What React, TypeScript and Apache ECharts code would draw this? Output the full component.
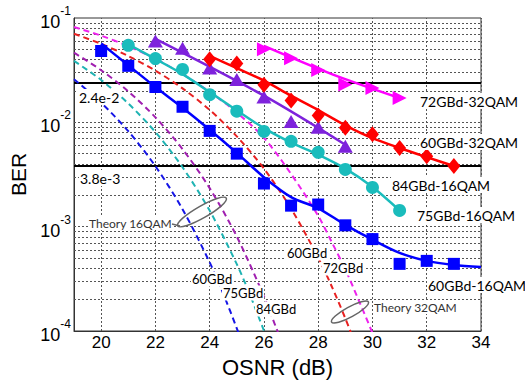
import React, { useEffect, useRef } from 'react';
import * as echarts from 'echarts';

// ---------- data ----------
const xTickLabels = ['20', '22', '24', '26', '28', '30', '32', '34'];
const yTickExponents = ['-4', '-3', '-2', '-1'];
const yGridValues = [
  0.0002, 0.0003, 0.0004, 0.0005, 0.0006, 0.0007, 0.0008, 0.0009, 0.001,
  0.002, 0.003, 0.004, 0.005, 0.006, 0.007, 0.008, 0.009, 0.01,
  0.02, 0.03, 0.04, 0.05, 0.06, 0.07, 0.08, 0.09,
];
const thresholds = [0.024, 0.0038];
const xRange = [19, 34];
const yRange = [0.0001, 0.1];

// measured points
const q16_60_x = [20, 21, 22, 23, 24, 25, 26, 27, 28, 29, 30, 31, 32, 33];
const q16_60_y = [0.0483, 0.0348, 0.0218, 0.0141, 0.00828, 0.00501, 0.00259, 0.00159, 0.00163, 0.00103, 0.00076, 0.00044, 0.00047, 0.00044];
const q16_60_fitX = [20, 21, 22, 23, 24, 25, 26, 27, 28, 29, 30, 31, 32, 33, 34];
const q16_60_fitY = [0.057, 0.0352, 0.0218, 0.0138, 0.0085, 0.0051, 0.00298, 0.00192, 0.0015, 0.00104, 0.00075, 0.00056, 0.00047, 0.00043, 0.00041];

const q16_75_x = [21, 22, 23, 24, 25, 26, 27, 28, 29, 30, 31];
const q16_75_y = [0.0547, 0.0409, 0.0321, 0.0184, 0.0128, 0.00817, 0.00657, 0.00516, 0.00354, 0.00238, 0.00143];
const q16_75_fitX = [21, 22, 23, 24, 25, 26, 27, 28, 29, 30, 31];
const q16_75_fitY = [0.056, 0.0405, 0.029, 0.0195, 0.013, 0.0088, 0.0064, 0.0049, 0.0036, 0.0024, 0.00143];

const q16_84_x = [22, 23, 24, 25, 26, 27, 28, 29];
const q16_84_y = [0.0601, 0.0512, 0.0331, 0.0258, 0.0175, 0.0102, 0.00897, 0.00589];
const q16_84_fitX = [22, 26, 29];
const q16_84_fitY = [0.063, 0.018, 0.0061];

const q32_60_x = [24, 25, 26, 27, 28, 29, 30, 31, 32, 33];
const q32_60_y = [0.0403, 0.0367, 0.0229, 0.0162, 0.0116, 0.00887, 0.0077, 0.00568, 0.00473, 0.00381];
const q32_60_fitX = [24, 25, 26, 27, 28, 29, 30, 31, 32, 33];
const q32_60_fitY = [0.0433, 0.033, 0.0251, 0.018, 0.0131, 0.00937, 0.00706, 0.00568, 0.00464, 0.00381];

const q32_72_x = [26, 27, 28, 29, 30, 31];
const q32_72_y = [0.0501, 0.0412, 0.0317, 0.0231, 0.0213, 0.0171];
const q32_72_fitX = [26, 28.5, 31];
const q32_72_fitY = [0.054, 0.029, 0.0171];

// theory curves
const th16_60_x = [19, 20, 21, 22, 23, 24, 24.5, 25, 25.2];
const th16_60_y = [0.0259, 0.0154, 0.00822, 0.0038, 0.00147, 0.000455, 0.000228, 0.000106, 0.000076];
const th16_75_x = [19, 20, 21, 22, 23, 24, 25, 25.5, 26, 26.2];
const th16_75_y = [0.0388, 0.0255, 0.01515, 0.00807, 0.00371, 0.001426, 0.000437, 0.000218, 0.000101, 0.000076];
const th16_84_x = [19, 20, 21, 22, 23, 24, 25, 26, 26.5, 26.7];
const th16_84_y = [0.0465, 0.0316, 0.0198, 0.01117, 0.00553, 0.00234, 0.000804, 0.000215, 0.0000995, 0.000075];
const th32_60_x = [19, 20, 21, 22, 23, 24, 25, 26, 27, 28, 28.5, 29, 29.3];
const th32_60_y = [0.0706, 0.0565, 0.0432, 0.0313, 0.02114, 0.01315, 0.00733, 0.0036, 0.00149, 0.000505, 0.000267, 0.000132, 0.000083];
const th32_72_x = [19, 20, 21, 22, 23, 24, 25, 26, 27, 28, 28.5, 29, 29.5, 30, 30.1];
const th32_72_y = [0.082, 0.0677, 0.0536, 0.0406, 0.029, 0.0196, 0.0124, 0.0071, 0.0032, 0.00127, 0.00071, 0.00039, 0.000195, 0.0000955, 0.00008];

const seriesLabels = ['72GBd-32QAM', '60GBd-32QAM', '84GBd-16QAM', '75GBd-16QAM', '60GBd-16QAM'];

const zip = (xs: number[], ys: number[]) => xs.map((x, i) => [x, ys[i]]);

const AXF = 'Liberation Sans, Arial, sans-serif';
const LBF = 'Lato, Carlito, sans-serif';

export default function App() {
  const ref = useRef<HTMLDivElement>(null);
  useEffect(() => {
    if (!ref.current) return;
    const chart = echarts.init(ref.current, null, { renderer: 'svg' });

    const dashed = (name: string, xs: number[], ys: number[], color: string) => ({
      name, type: 'line', data: zip(xs, ys), showSymbol: false, smooth: 0.3, z: 3,
      lineStyle: { color, width: 2, type: [6, 4] },
    });
    const fit = (name: string, xs: number[], ys: number[], color: string) => ({
      name, type: 'line', data: zip(xs, ys), showSymbol: false, smooth: 0.3, z: 4,
      lineStyle: { color, width: 2.5 },
    });
    const pts = (name: string, xs: number[], ys: number[], color: string, symbol: string, size: any, rot = 0) => ({
      name, type: 'scatter', data: zip(xs, ys), symbol, symbolSize: size, symbolRotate: rot, z: 5,
      itemStyle: { color, opacity: 1 },
    });

    const label = (text: string, x: number, y: number, size: number, color = '#000') => ({
      type: 'text', x, y, z: 100,
      style: { text, font: `${size}px ${LBF}`, fill: color, verticalAlign: 'middle', backgroundColor: '#fff', padding: [1, 1] },
    });

    const gridLines = [
      ...xTickLabels.map((t) => ({ coords: [[Number(t), yRange[0]], [Number(t), yRange[1]]] })),
      ...yGridValues.map((v) => ({ coords: [[xRange[0], v], [xRange[1], v]] })),
    ];
    const thrLines = thresholds.map((v) => ({ coords: [[xRange[0], v], [xRange[1], v]] }));

    const option: any = {
      animation: false,
      grid: { left: 74, right: 44, top: 18, bottom: 47, show: true, borderColor: '#333', borderWidth: 1 },
      xAxis: {
        type: 'value', min: xRange[0], max: xRange[1], interval: 1,
        name: 'OSNR (dB)', nameLocation: 'middle', nameGap: 25,
        nameTextStyle: { fontSize: 22, fontFamily: AXF, color: '#000' },
        axisLine: { lineStyle: { color: '#333' } },
        axisTick: { show: false },
        splitLine: { show: false },
        axisLabel: {
          margin: 3, fontSize: 17, fontFamily: AXF, color: '#000',
          formatter: (v: number) => (xTickLabels.includes(String(v)) ? String(v) : ''),
        },
      },
      yAxis: {
        type: 'log', logBase: 10, min: yRange[0], max: yRange[1],
        name: 'BER', nameLocation: 'middle', nameGap: 40,
        nameTextStyle: { fontSize: 21, fontFamily: AXF, color: '#000' },
        axisLine: { show: true, lineStyle: { color: '#333' } },
        axisTick: { show: false },
        splitLine: { show: false },
        axisLabel: {
          margin: 3,
          formatter: (v: number) => {
            const e = Math.round(Math.log10(v));
            return `{b|10}{s|${yTickExponents[e + 4]}}`;
          },
          rich: {
            b: { fontSize: 18, fontFamily: AXF, color: '#000', lineHeight: 26, verticalAlign: 'bottom' },
            s: { fontSize: 12, fontFamily: AXF, color: '#000', verticalAlign: 'top' },
          },
        },
      },
      series: [
        {
          name: 'grid', type: 'lines', coordinateSystem: 'cartesian2d', z: 1, silent: true,
          polyline: false, data: gridLines,
          lineStyle: { color: '#555', type: [2, 2], width: 1, opacity: 1 },
        },
        {
          name: 'thr', type: 'lines', coordinateSystem: 'cartesian2d', z: 2, silent: true,
          polyline: false, data: thrLines,
          lineStyle: { color: '#000', type: 'solid', width: 2, opacity: 1 },
        },
        dashed('th16_60', th16_60_x, th16_60_y, '#1414E6'),
        dashed('th16_75', th16_75_x, th16_75_y, '#1FB3B3'),
        dashed('th16_84', th16_84_x, th16_84_y, '#A01FB0'),
        dashed('th32_60', th32_60_x, th32_60_y, '#E82020'),
        dashed('th32_72', th32_72_x, th32_72_y, '#EE22EE'),
        fit('f16_60', q16_60_fitX, q16_60_fitY, '#0000FF'),
        fit('f16_75', q16_75_fitX, q16_75_fitY, '#1ABCBC'),
        fit('f16_84', q16_84_fitX, q16_84_fitY, '#7E22DC'),
        fit('f32_60', q32_60_fitX, q32_60_fitY, '#FF0000'),
        fit('f32_72', q32_72_fitX, q32_72_fitY, '#FF00FF'),
        pts(seriesLabels[4], q16_60_x, q16_60_y, '#0000FF', 'rect', 12),
        pts(seriesLabels[3], q16_75_x, q16_75_y, '#1ABCBC', 'circle', 13),
        pts(seriesLabels[2], q16_84_x, q16_84_y, '#7E22DC', 'triangle', [15, 13]),
        pts(seriesLabels[1], q32_60_x, q32_60_y, '#FF0000', 'diamond', [13, 16]),
        pts(seriesLabels[0], q32_72_x, q32_72_y, '#FF00FF', 'triangle', [14, 14], -90),
      ],
      graphic: [
        label(seriesLabels[0], 419, 101, 14),
        label(seriesLabels[1], 419, 142, 14),
        label(seriesLabels[2], 391, 185, 14),
        label(seriesLabels[3], 416, 215, 14),
        label(seriesLabels[4], 427, 285, 14),
        label('2.4e-2', 78, 97, 14),
        label('3.8e-3', 79, 178, 14),
        label('Theory 16QAM', 88, 223, 12, '#333'),
        label('Theory 32QAM', 373, 307, 12, '#333'),
        label('60GBd', 191, 279, 13),
        label('75GBd', 222, 293, 13),
        label('84GBd', 255, 309, 13),
        label('60GBd', 286, 253, 13),
        label('72GBd', 322, 268, 13),
        {
          type: 'ellipse', x: 202, y: 212, rotation: 0.52, z: 101,
          shape: { cx: 0, cy: 0, rx: 28, ry: 6 },
          style: { fill: 'none', stroke: '#666', lineWidth: 1.5 },
        },
        {
          type: 'line', z: 101,
          shape: { x1: 172, y1: 224, x2: 180, y2: 226 },
          style: { stroke: '#666', lineWidth: 1.5 },
        },
        {
          type: 'ellipse', x: 350, y: 312, rotation: 0.5, z: 101,
          shape: { cx: 0, cy: 0, rx: 21, ry: 5 },
          style: { fill: 'none', stroke: '#666', lineWidth: 1.5 },
        },
      ],
    };
    chart.setOption(option);
    return () => chart.dispose();
  }, []);
  return <div ref={ref} style={{ position: 'fixed', left: 0, top: 0, width: 525, height: 383, background: '#fff' }} />;
}
